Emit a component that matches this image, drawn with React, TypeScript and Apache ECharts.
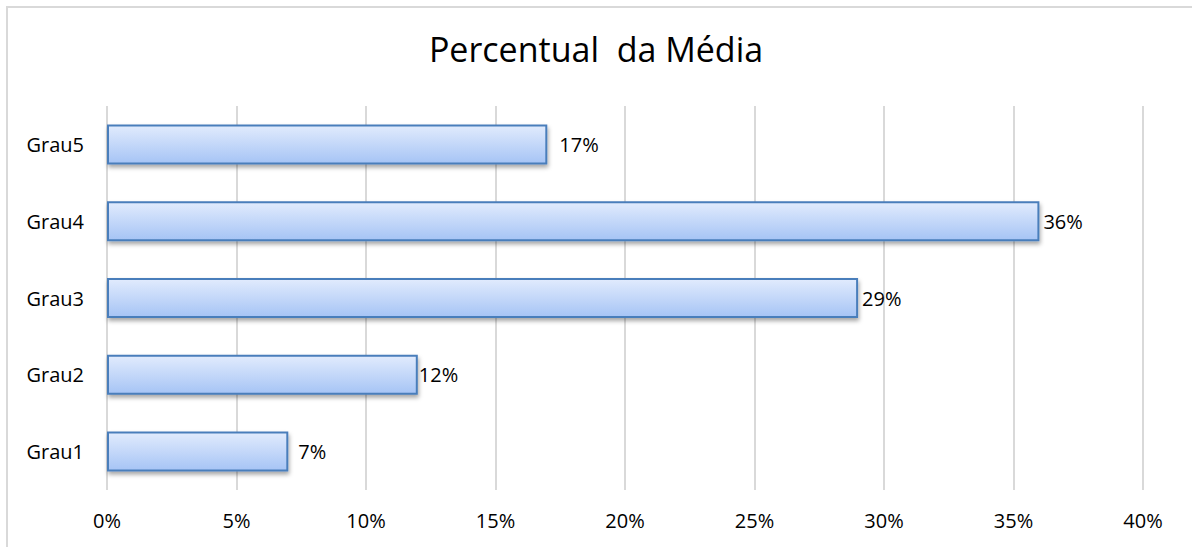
import React, { useEffect, useRef } from "react";
import * as echarts from "echarts";

const titleText = "Percentual  da Média";
const categories = ["Grau1", "Grau2", "Grau3", "Grau4", "Grau5"];
const values = [7, 12, 29, 36, 17];
const xTicks = [0, 5, 10, 15, 20, 25, 30, 35, 40];

// label gap (style only) per category, as Excel placed them
const labelGaps = [10, 1, 4, 4, 12];

const FONT = "'Open Sans', 'DejaVu Sans', sans-serif";

export default function App() {
  const ref = useRef<HTMLDivElement>(null);
  useEffect(() => {
    if (!ref.current) return;
    const chart = echarts.init(ref.current, null, { renderer: "svg" });
    chart.setOption({
      animation: false,
      backgroundColor: "#ffffff",
      title: {
        text: titleText,
        left: "center",
        top: 27,
        textStyle: { fontFamily: FONT, fontSize: 34, fontWeight: "normal", color: "#000000" },
      },
      graphic: [
        {
          type: "rect",
          shape: { x: 7, y: 7, width: 1400, height: 800 },
          style: { fill: "none", stroke: "#d9d9d9", lineWidth: 2 },
          silent: true,
          z: -1,
        },
      ],
      grid: { left: 107, right: 49, top: 106, bottom: 57, containLabel: false },
      xAxis: {
        type: "value",
        min: xTicks[0],
        max: xTicks[xTicks.length - 1],
        interval: 5,
        axisLine: { show: false },
        axisTick: { show: false },
        splitLine: { show: true, lineStyle: { color: "#d9d9d9", width: 2 } },
        axisLabel: {
          formatter: (v: number) => v + "%",
          fontFamily: FONT,
          fontSize: 20,
          color: "#000000",
          margin: 20,
        },
      },
      yAxis: {
        type: "category",
        data: categories,
        axisLine: { show: false },
        axisTick: { show: false },
        splitLine: { show: false },
        axisLabel: { fontFamily: FONT, fontSize: 20, color: "#000000", margin: 23 },
      },
      series: [
        {
          type: "bar",
          barWidth: 40,
          data: values.map((v, i) => ({
            value: v,
            label: { distance: labelGaps[i] },
          })),
          itemStyle: {
            color: new echarts.graphic.LinearGradient(0, 0, 0, 1, [
              { offset: 0, color: "#e1ebfd" },
              { offset: 1, color: "#a6c4f5" },
            ]),
            borderColor: "#4a7ebb",
            borderWidth: 2,
            shadowColor: "rgba(0,0,0,0.35)",
            shadowBlur: 4,
            shadowOffsetY: 3,
            shadowOffsetX: 1,
          },
          label: {
            show: true,
            position: "right",
            formatter: (p: any) => p.value + "%",
            fontFamily: FONT,
            fontSize: 20,
            color: "#000000",
          },
        },
      ],
    });
    return () => chart.dispose();
  }, []);
  return (
    <div
      ref={ref}
      style={{ position: "fixed", left: 0, top: 0, width: 1192, height: 547 }}
    />
  );
}
